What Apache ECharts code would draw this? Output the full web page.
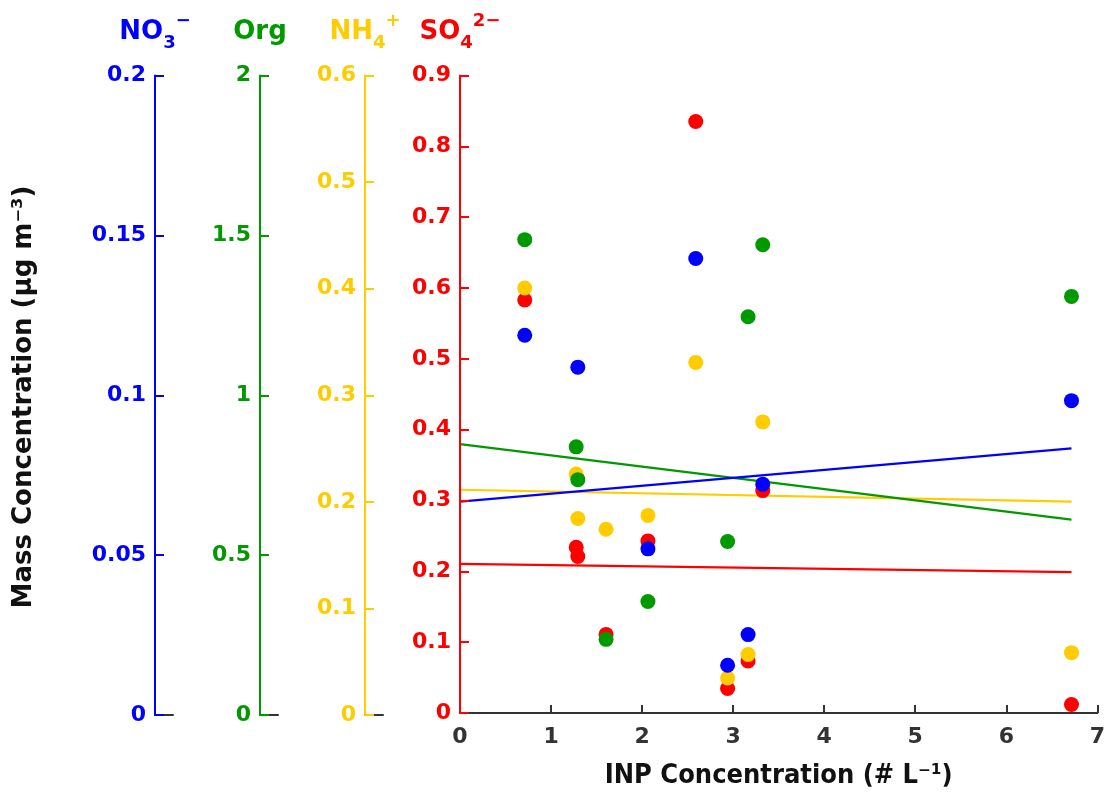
<!DOCTYPE html>
<html>
<head>
<meta charset="utf-8">
<script src="https://cdn.jsdelivr.net/npm/echarts@6/dist/echarts.min.js"></script>
<style>
  html, body { margin: 0; padding: 0; background: #fff; }
  #chart { width: 1108px; height: 794px; }
</style>
</head>
<body>
<div id="chart"></div>
<script>
// INP concentration of each sample (# L^-1)
const inpConc = [0.711, 1.276, 1.294, 1.604, 2.064, 2.589, 2.939, 3.164, 3.325, 6.716];
// Mass concentrations (µg m^-3) of each species for the same samples
const no3 = [0.1185, null, 0.1085, null, 0.0515, 0.1426, 0.015, 0.0246, 0.0718, 0.098];
const org = [1.485, 0.835, 0.732, 0.231, 0.350, null, 0.538, 1.243, 1.469, 1.307];
const nh4 = [0.400, 0.225, 0.183, 0.173, 0.186, 0.330, 0.033, 0.055, 0.274, 0.0568];
const so4 = [0.583, 0.234, 0.221, 0.111, 0.243, 0.835, 0.0345, 0.0735, 0.314, 0.012];
// Linear fit values at x = 0 and at the largest INP concentration
const no3Fit = [0.0663, 0.0830];
const orgFit = [0.8435, 0.6066];
const nh4Fit = [0.2101, 0.1989];
const so4Fit = [0.2106, 0.1989];
// Axis ranges [min, max, interval]
const no3Range = [0, 0.2, 0.05];
const orgRange = [0, 2, 0.5];
const nh4Range = [0, 0.6, 0.1];
const so4Range = [0, 0.9, 0.1];
const xRange = [0, 7, 1];

const C = { no3: '#0000ff', org: '#009900', nh4: '#ffcc00', so4: '#ff0000', ink: '#333333' };
const FONT = '"DejaVu Sans", sans-serif';
const FONT_COND = '"DejaVu Sans Condensed", "DejaVu Sans", sans-serif';

const gridTop = 75.5, gridBottom = 79;
const xMax = Math.max(...inpConc);

function pts(vals) {
  return inpConc.map((x, i) => vals[i] == null ? null : [x, vals[i]]).filter(p => p);
}
function fitLine(f) {
  return [[0, f[0]], [xMax, f[1]]];
}
function nameRich(color) {
  return {
    color: color, fontFamily: FONT, fontWeight: 'bold', fontSize: 26,
    rich: {
      b: { color: color, fontFamily: FONT, fontWeight: 'bold', fontSize: 26, lineHeight: 40, verticalAlign: 'middle' },
      sub: { color: color, fontFamily: FONT, fontWeight: 'bold', fontSize: 18, lineHeight: 17, verticalAlign: 'bottom' },
      sup: { color: color, fontFamily: FONT, fontWeight: 'bold', fontSize: 18, lineHeight: 17, verticalAlign: 'top' }
    }
  };
}
function visibleY(gridIndex, range, color, name) {
  return {
    type: 'value', gridIndex: gridIndex, position: 'left',
    min: range[0], max: range[1], interval: range[2],
    axisLine: { show: true, lineStyle: { color: color, width: 2 } },
    axisTick: { show: true, inside: true, length: 9, lineStyle: { color: color, width: 2 } },
    axisLabel: { color: color, fontFamily: FONT, fontWeight: 'bold', fontSize: 22, margin: 9 },
    splitLine: { show: false },
    name: name, nameLocation: 'end', nameGap: 23,
    nameTextStyle: nameRich(color),
    z: 3
  };
}
function hiddenY(range) {
  return { type: 'value', gridIndex: 0, min: range[0], max: range[1], show: false, splitLine: { show: false } };
}
function stubX(gridIndex) {
  return {
    type: 'value', gridIndex: gridIndex, min: 0, max: 1,
    axisLine: { show: true, lineStyle: { color: C.ink, width: 2 } },
    axisTick: { show: false }, axisLabel: { show: false }, splitLine: { show: false },
    z: 1
  };
}

const option = {
  animation: false,
  backgroundColor: '#fff',
  grid: [
    { left: 460, right: 8, top: gridTop, bottom: gridBottom },
    { left: 155, width: 18, top: gridTop, bottom: gridBottom },
    { left: 260, width: 18, top: gridTop, bottom: gridBottom },
    { left: 365, width: 18, top: gridTop, bottom: gridBottom }
  ],
  xAxis: [
    {
      type: 'value', gridIndex: 0, min: xRange[0], max: xRange[1], interval: xRange[2],
      axisLine: { show: true, lineStyle: { color: C.ink, width: 2 } },
      axisTick: { show: true, inside: true, length: 8, lineStyle: { color: C.ink, width: 2 } },
      axisLabel: { color: C.ink, fontFamily: FONT, fontWeight: 'bold', fontSize: 22, margin: 13 },
      splitLine: { show: false },
      name: 'INP Concentration (# L\u207B\u00B9)', nameLocation: 'middle', nameGap: 49,
      nameTextStyle: { color: '#111', fontFamily: FONT_COND, fontWeight: 'bold', fontSize: 27 },
      z: 1
    },
    stubX(1), stubX(2), stubX(3)
  ],
  yAxis: [
    visibleY(0, so4Range, C.so4, '{b|SO}{sub|4}{sup|2\u2212}'),
    hiddenY(nh4Range),
    hiddenY(orgRange),
    hiddenY(no3Range),
    visibleY(1, no3Range, C.no3, '{b|NO}{sub|3}{sup|\u2212}'),
    visibleY(2, orgRange, C.org, '{b|Org}'),
    visibleY(3, nh4Range, C.nh4, '{b|NH}{sub|4}{sup|+}')
  ],
  graphic: [{
    type: 'text', left: 11, top: 'middle', rotation: Math.PI / 2,
    style: {
      text: 'Mass Concentration (\u00B5g m\u207B\u00B3)',
      fill: '#111', font: 'bold 26px ' + FONT
    }
  }],
  series: [
    { type: 'line', xAxisIndex: 0, yAxisIndex: 0, data: fitLine(so4Fit), symbol: 'none', lineStyle: { color: C.so4, width: 2.2 }, z: 2 },
    { type: 'line', xAxisIndex: 0, yAxisIndex: 1, data: fitLine(nh4Fit), symbol: 'none', lineStyle: { color: C.nh4, width: 2.2 }, z: 2 },
    { type: 'line', xAxisIndex: 0, yAxisIndex: 2, data: fitLine(orgFit), symbol: 'none', lineStyle: { color: C.org, width: 2.2 }, z: 2 },
    { type: 'line', xAxisIndex: 0, yAxisIndex: 3, data: fitLine(no3Fit), symbol: 'none', lineStyle: { color: C.no3, width: 2.2 }, z: 2 },
    { type: 'scatter', xAxisIndex: 0, yAxisIndex: 0, data: pts(so4), symbolSize: 15, itemStyle: { color: C.so4, opacity: 1 }, z: 3 },
    { type: 'scatter', xAxisIndex: 0, yAxisIndex: 1, data: pts(nh4), symbolSize: 15, itemStyle: { color: C.nh4, opacity: 1 }, z: 4 },
    { type: 'scatter', xAxisIndex: 0, yAxisIndex: 2, data: pts(org), symbolSize: 15, itemStyle: { color: C.org, opacity: 1 }, z: 5 },
    { type: 'scatter', xAxisIndex: 0, yAxisIndex: 3, data: pts(no3), symbolSize: 15, itemStyle: { color: C.no3, opacity: 1 }, z: 6 }
  ]
};

const chart = echarts.init(document.getElementById('chart'), null, { renderer: 'canvas' });
chart.setOption(option);
</script>
</body>
</html>
